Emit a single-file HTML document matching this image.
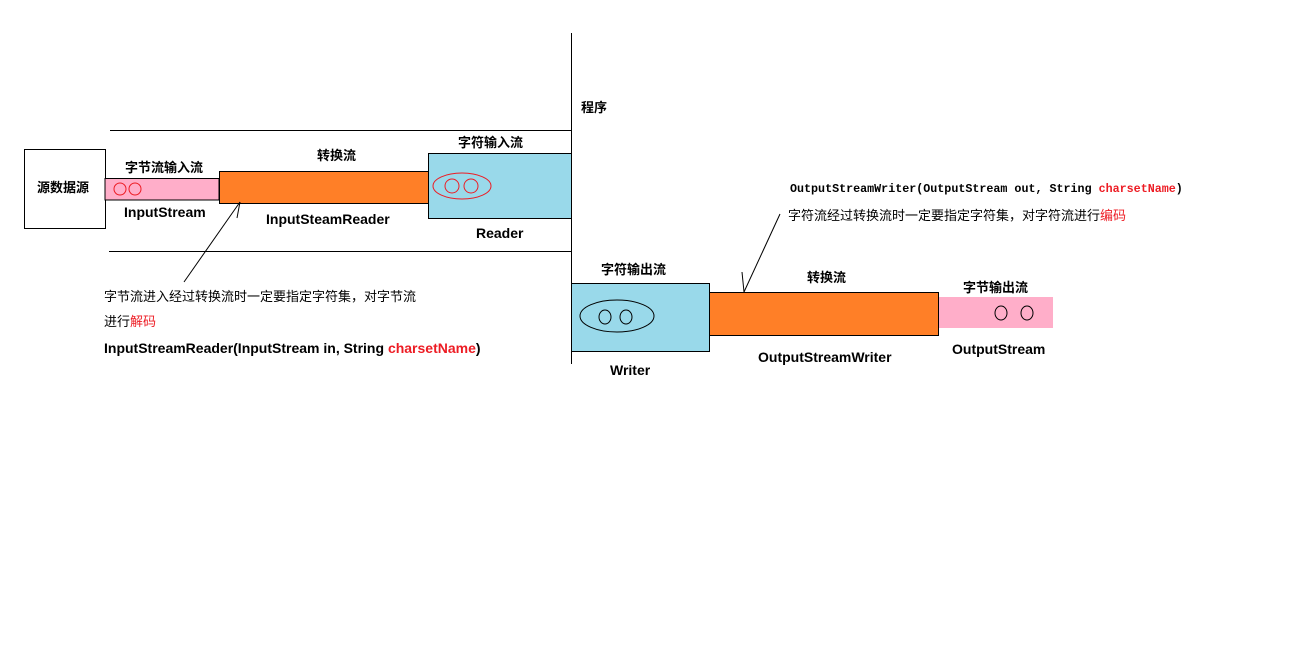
<!DOCTYPE html>
<html><head><meta charset="utf-8"><style>
body{margin:0;background:#fff;}
svg{display:block;}
text{font-family:"Liberation Sans","Noto Sans CJK SC",sans-serif;font-size:13px;fill:#000;}
.b{font-weight:bold;font-size:14px;}
.m{font-family:"Liberation Mono","Noto Sans CJK SC",monospace;font-size:11.7px;font-weight:bold;}
.r{fill:#ed1c24;}
</style></head><body>
<svg width="1310" height="658" xmlns="http://www.w3.org/2000/svg">
<line x1="571.5" y1="33" x2="571.5" y2="364" stroke="#000"/>
<line x1="110" y1="130.5" x2="571" y2="130.5" stroke="#000"/>
<line x1="109" y1="251.5" x2="571" y2="251.5" stroke="#000"/>
<text x="581" y="112" class="b" style="font-size:13px">程序</text>
<rect x="24.5" y="149.5" width="81" height="79" fill="#fff" stroke="#000"/>
<text x="37" y="192" class="b" style="font-size:13px">源数据源</text>
<rect x="105" y="178.5" width="114" height="21.5" fill="#ffaec9" stroke="#000"/>
<circle cx="120" cy="189" r="6" fill="none" stroke="#ed1c24"/>
<circle cx="135" cy="189" r="6" fill="none" stroke="#ed1c24"/>
<rect x="219.5" y="171.5" width="209" height="32" fill="#ff7f27" stroke="#000"/>
<rect x="428.5" y="153.5" width="143" height="65" fill="#99d9ea" stroke="#000"/>
<ellipse cx="462" cy="186" rx="29" ry="13" fill="none" stroke="#ed1c24"/>
<circle cx="452" cy="186" r="7" fill="none" stroke="#ed1c24"/>
<circle cx="471" cy="186" r="7" fill="none" stroke="#ed1c24"/>
<text x="125" y="172" class="b" style="font-size:13px">字节流输入流</text>
<text x="124" y="217" class="b">InputStream</text>
<text x="317" y="160" class="b" style="font-size:13px">转换流</text>
<text x="266" y="224" class="b">InputSteamReader</text>
<text x="458" y="147" class="b" style="font-size:13px">字符输入流</text>
<text x="476" y="238" class="b">Reader</text>
<line x1="184" y1="282" x2="240" y2="202" stroke="#000"/>
<line x1="240" y1="202" x2="237" y2="218" stroke="#000"/>
<text x="104" y="301">字节流进入经过转换流时一定要指定字符集，对字节流</text>
<text x="104" y="326">进行<tspan class="r">解码</tspan></text>
<text x="104" y="353" class="b">InputStreamReader(InputStream in, String <tspan class="r">charsetName</tspan>)</text>
<rect x="571.5" y="283.5" width="138" height="68" fill="#99d9ea" stroke="#000"/>
<ellipse cx="617" cy="316" rx="37" ry="16" fill="none" stroke="#000"/>
<ellipse cx="605" cy="317" rx="6" ry="7" fill="none" stroke="#000"/>
<ellipse cx="626" cy="317" rx="6" ry="7" fill="none" stroke="#000"/>
<rect x="709.5" y="292.5" width="229" height="43" fill="#ff7f27" stroke="#000"/>
<rect x="939" y="297" width="114" height="31" fill="#ffaec9"/>
<ellipse cx="1001" cy="313" rx="6" ry="7" fill="none" stroke="#000"/>
<ellipse cx="1027" cy="313" rx="6" ry="7" fill="none" stroke="#000"/>
<text x="601" y="274" class="b" style="font-size:13px">字符输出流</text>
<text x="610" y="375" class="b">Writer</text>
<text x="807" y="282" class="b" style="font-size:13px">转换流</text>
<text x="758" y="362" class="b">OutputStreamWriter</text>
<text x="963" y="292" class="b" style="font-size:13px">字节输出流</text>
<text x="952" y="354" class="b">OutputStream</text>
<line x1="744" y1="292" x2="780" y2="214" stroke="#000"/>
<line x1="744" y1="292" x2="742" y2="272" stroke="#000"/>
<text x="790" y="192" class="m">OutputStreamWriter(OutputStream out, String <tspan class="r">charsetName</tspan>)</text>
<text x="788" y="220">字符流经过转换流时一定要指定字符集，对字符流进行<tspan class="r">编码</tspan></text>
</svg>
</body></html>
